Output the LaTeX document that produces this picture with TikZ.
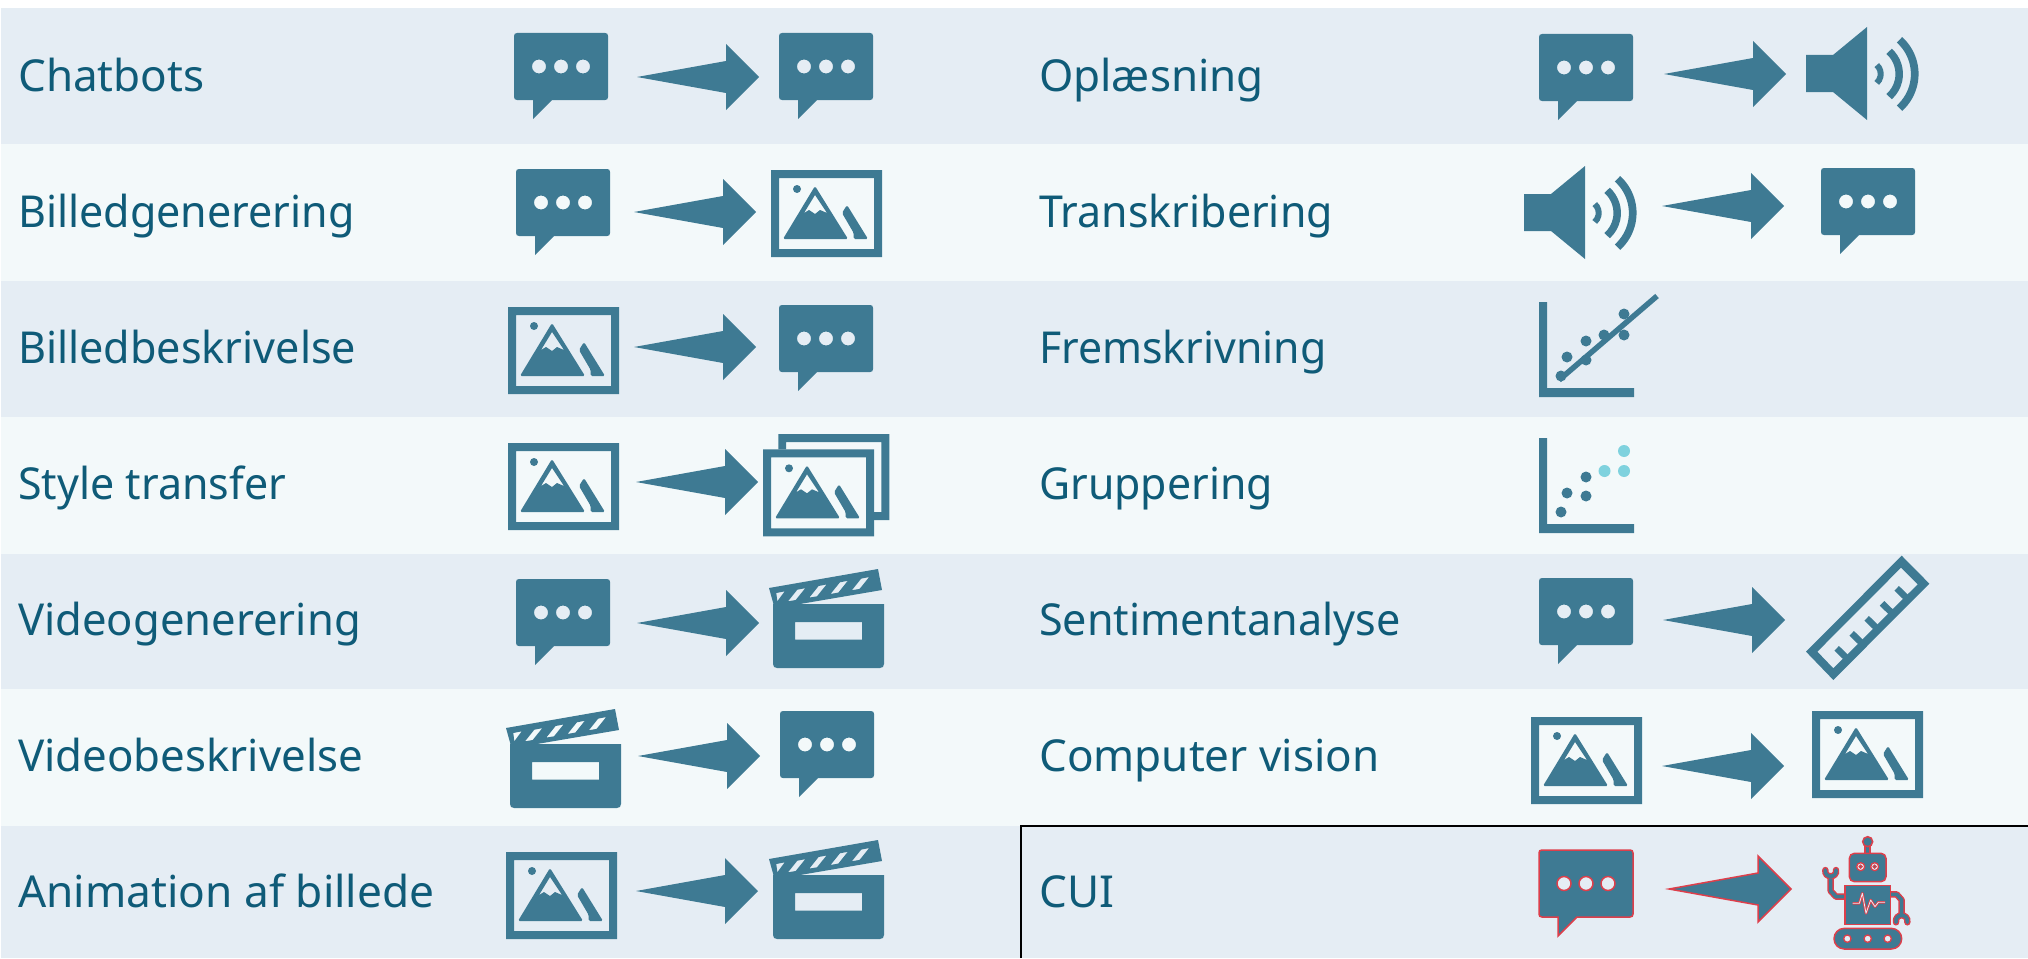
\documentclass[tikz,border=0pt]{standalone}
\usepackage{graphicx}
\usepackage{fontspec}
\setmainfont{Noto Sans}
\definecolor{icon}{HTML}{3E7A93}
\definecolor{txt}{HTML}{0F5B78}
\definecolor{banddark}{HTML}{E5EDF4}
\definecolor{bandlight}{HTML}{F3F9FA}
\definecolor{cyandot}{HTML}{7FD2DE}
\definecolor{alert}{HTML}{DD3F4B}
\newcommand{\nw}[2]{\scalebox{#1}[1]{#2}}
\tikzset{
  x=1pt,y=-1pt,
  ic/.style={fill=icon},
  label/.style={anchor=base west,inner sep=0pt,text=txt,font=\fontsize{44}{44}\selectfont},
  chat/.pic={
    \path[ic,even odd rule]
      (3,0) -- (91,0) .. controls (93,0) and (94,1) .. (94,3) -- (94,64)
      .. controls (94,66) and (93,67) .. (91,67) -- (38,67) -- (19,86) -- (19,67) -- (3,67)
      .. controls (1,67) and (0,66) .. (0,64) -- (0,3) .. controls (0,1) and (1,0) .. (3,0) -- cycle
      (25,33.5) circle (7) (47,33.5) circle (7) (69,33.5) circle (7);
  },
  blockarrow/.pic={
    \path[ic] (0,0) -- (89,-16) -- (89,-33) -- (122,0) -- (89,33) -- (89,16) -- cycle;
  },
  imgicon/.pic={
    \fill[icon,even odd rule] (0,0) rectangle (111,87) (8,8) rectangle (103,79);
    \fill[icon] (26,19) circle (4);
    \fill[icon,even odd rule]
      [rounded corners=1.5pt] (44,16) -- (12,69) -- (77,69) -- cycle
      [sharp corners] (44,25) -- (33,43) -- (38,40) -- (44,44) -- (49,40) -- (56,43) -- cycle;
    \fill[icon,rounded corners=1.5pt] (76,35) -- (71,43) -- (82.7,63) -- (82.7,69) -- (97,69) -- cycle;
  },
  backframe/.pic={
    \fill[icon] (15.3,-15.3) -- (126.3,-15.3) -- (126.3,70.7) -- (111,70.7) -- (111,62.7) -- (118.3,62.7)
      -- (118.3,-7.3) -- (23,-7.3) -- (23,0) -- (15.3,0) -- cycle;
  },
  clapper/.pic={
    \fill[icon,even odd rule]
      (0,0) -- (0,60) .. controls (0,62.5) and (1.5,64) .. (4,64) -- (107,64)
      .. controls (109.5,64) and (111,62.5) .. (111,60) -- (111,0) -- cycle
      (22,18) rectangle (89,35.5);
    \fill[icon,even odd rule] (-4,-16) -- (105,-35) -- (109,-14) -- (27,0) -- (1,2) -- cycle
      (3.3,-11) -- (11.7,-12.7) -- (4.3,-2.7) -- cycle
      (24.3,-14.3) -- (32.2,-15.8) -- (22.7,-4) -- (15,-2.7) -- cycle
      (45.6,-18) -- (53.5,-19.5) -- (44,-7.7) -- (36.3,-6.4) -- cycle
      (66.9,-21.7) -- (74.8,-23.2) -- (65.3,-11.4) -- (57.6,-10.1) -- cycle
      (88.2,-25.4) -- (96.1,-26.9) -- (86.6,-15.1) -- (78.9,-13.8) -- cycle;
  },
  speaker/.pic={
    \fill[icon] (0,28) -- (27,28) -- (61,0) -- (61,93) -- (27,65) -- (0,65) -- cycle;
    \draw[icon,line width=6pt] (62.7,47) ++(-48:12) arc[start angle=-48,end angle=48,radius=12];
    \draw[icon,line width=7.5pt] (62.7,47) ++(-48:30.5) arc[start angle=-48,end angle=48,radius=30.5];
    \draw[icon,line width=7.7pt] (62.7,47) ++(-48:46) arc[start angle=-48,end angle=48,radius=46];
  },
  axes/.pic={
    \fill[icon] (0,0) -- (8,0) -- (8,86) -- (95,86) -- (95,95) -- (0,95) -- cycle;
  },
  trendplot/.pic={
    \pic {axes};
    \foreach \p in {(22,74),(28,55),(47,39),(47,58),(65,33),(85,12),(85,33)} \fill[icon] \p circle (5.5);
    \draw[icon,line width=5.5pt] (20,78) -- (118,-6);
  },
  clusterplot/.pic={
    \pic {axes};
    \foreach \p in {(22,74),(28,55),(47,39),(47,58)} \fill[icon] \p circle (5.5);
    \foreach \p in {(65.5,33),(85,13),(85,33)} \fill[cyandot] \p circle (6);
  },
  ruler/.pic={
    \begin{scope}[x=1/3 pt,y=-1/3 pt]
    \fill[icon,even odd rule] (365,47) -- (448,131) -- (160,420) -- (78,335) -- cycle
      (363,83) -- (413,133) -- (160,385) -- (112,335) -- cycle;
    \foreach \a/\b in {170/325,215/280,260/235,306/190,350/145}
      \draw[icon,line width=6.5pt] (\a,\b) -- ++(33,32);
    \end{scope}
  },
  robot/.pic={
    \begin{scope}[x=1/3 pt,y=-1/3 pt]
    \tikzset{rb/.style={fill=icon,draw=alert,line width=1.5pt}}
    % arms: red outline first, then blue core
    \foreach \col/\w in {alert/6.4pt,icon/3.6pt}{
      \draw[\col,line width=\w,line join=round] (203,60) -- (203,90);
      \draw[\col,line width=\w,line join=round] (140,215) -- (108,215) -- (92,198) -- (92,160);
      \draw[\col,line width=\w,line join=round] (268,208) -- (290,208) -- (305,225) -- (305,270);
      \draw[\col,line width=\w,line cap=round] (76,135) .. controls (72,160) and (112,160) .. (108,135);
      \draw[\col,line width=\w,line cap=round] (288,292) .. controls (284,264) and (326,264) .. (322,292);
    }
    \path[rb] (203,50) circle (15);
    \path[rb] (148,85) [rounded corners=5pt] -- (258,85) -- (258,170) -- (148,170) -- cycle;
    \path[fill=banddark,draw=alert,line width=1.3pt] (182,125) circle (12) (224,125) circle (12);
    \path[fill=icon,draw=alert,line width=1pt] (182,125) circle (5) (224,125) circle (5);
    \path[rb] (135,182) rectangle (272,298);
    \draw[alert,line width=2.6pt,line join=round] (158,235) -- (178,235) -- (187,205) -- (198,265) -- (212,225) -- (225,245) -- (235,232) -- (255,232);
    \draw[banddark,line width=.8pt,line join=round] (158,235) -- (178,235) -- (187,205) -- (198,265) -- (212,225) -- (225,245) -- (235,232) -- (255,232);
    \path[rb] (133,310) -- (274,310) arc[start angle=-90,end angle=90,radius=31] -- (133,372) arc[start angle=90,end angle=270,radius=31] -- cycle;
    \path[fill=banddark,draw=alert,line width=1.3pt] (142,341) circle (11) (203,341) circle (11) (263,341) circle (11);
    \end{scope}
  },
}
\begin{document}
\begin{tikzpicture}
\useasboundingbox (0,0) rectangle (2028,958);
\fill[white] (0,0) rectangle (2028,958);
% bands
\foreach \a/\b/\c in {8/144/banddark,144/281/bandlight,281/417/banddark,417/553.5/bandlight,553.5/689/banddark,689/826/bandlight,826/958/banddark}
  \fill[\c] (1,\a) rectangle (2028,\b);
% CUI frame
\draw[black,line width=2pt] (1021,958) -- (1021,826) -- (2028,826);
% left column labels
\node[label] (l1) at (18,91) {Chatbots};
\node[label] (l2) at (18,227) {\nw{.977}{Billedgenerering}};
\node[label] (l3) at (18,363) {\nw{.98}{Billedbeskrivelse}};
\node[label] (l4) at (18,499) {\nw{.976}{Style transfer}};
\node[label] (l5) at (18,635) {\nw{.99}{Videogenerering}};
\node[label] (l6) at (18,771) {\nw{.995}{Videobeskrivelse}};
\node[label] (l7) at (18,907) {\nw{1.005}{Animation af billede}};
% right column labels
\node[label] (r1) at (1039,91) {Oplæsning};
\node[label] (r2) at (1039,227) {\nw{.975}{Transkribering}};
\node[label] (r3) at (1039,363) {\nw{.973}{Fremskrivning}};
\node[label] (r4) at (1039,499) {\nw{.973}{Gruppering}};
\node[label] (r5) at (1039,635) {\nw{.98}{Sentimentanalyse}};
\node[label] (r6) at (1039,771) {Computer vision};
\node[label] (r7) at (1039,907) {CUI};
% left column icons
\pic (c1a) at (514,33) {chat};
\pic (a1) at (637,77) {blockarrow};
\pic (c1b) at (779,33) {chat};
\pic (c2a) at (516,169) {chat};
\pic (a2) at (634,212) {blockarrow};
\pic (i2) at (771,170) {imgicon};
\pic (i3) at (508,307) {imgicon};
\pic (a3) at (634,347) {blockarrow};
\pic (c3) at (779,305) {chat};
\pic (i4a) at (508,443) {imgicon};
\pic (a4) at (636,482) {blockarrow};
\pic (i4back) at (763,449.3) {backframe};
\pic (i4b) at (763,449.3) {imgicon};
\pic (c5) at (516,579) {chat};
\pic (a5) at (637,623) {blockarrow};
\pic (v5) at (773,604) {clapper};
\pic (v6) at (510,744) {clapper};
\pic (a6) at (638,756) {blockarrow};
\pic (c6) at (780,711) {chat};
\pic (i7) at (506,852) {imgicon};
\pic (a7) at (636,891) {blockarrow};
\pic (v7) at (773,875) {clapper};
% right column icons
\pic (rc1) at (1539,34) {chat};
\pic (ra1) at (1664,74) {blockarrow};
\pic (rs1) at (1806,27) {speaker};
\pic (rs2) at (1524,166) {speaker};
\pic (ra2) at (1662,206) {blockarrow};
\pic (rc2) at (1821,168) {chat};
\pic (rp3) at (1539,302) {trendplot};
\pic (rp4) at (1539,438) {clusterplot};
\pic (rc5) at (1539,578) {chat};
\pic (ra5) at (1663,620) {blockarrow};
\pic (rr5) at (1780,540) {ruler};
\pic (ri6a) at (1531,717) {imgicon};
\pic (ra6) at (1662,766) {blockarrow};
\pic (ri6b) at (1812,711) {imgicon};
\pic[ic/.style={fill=icon,draw=alert,line width=1.5pt}] (rc7) at (1539,850) {chat};
\pic[ic/.style={fill=icon,draw=alert,line width=1.5pt}] (ra7) at (1669,889) {blockarrow};
\pic (rb7) at (1800,825) {robot};
\end{tikzpicture}
\end{document}
